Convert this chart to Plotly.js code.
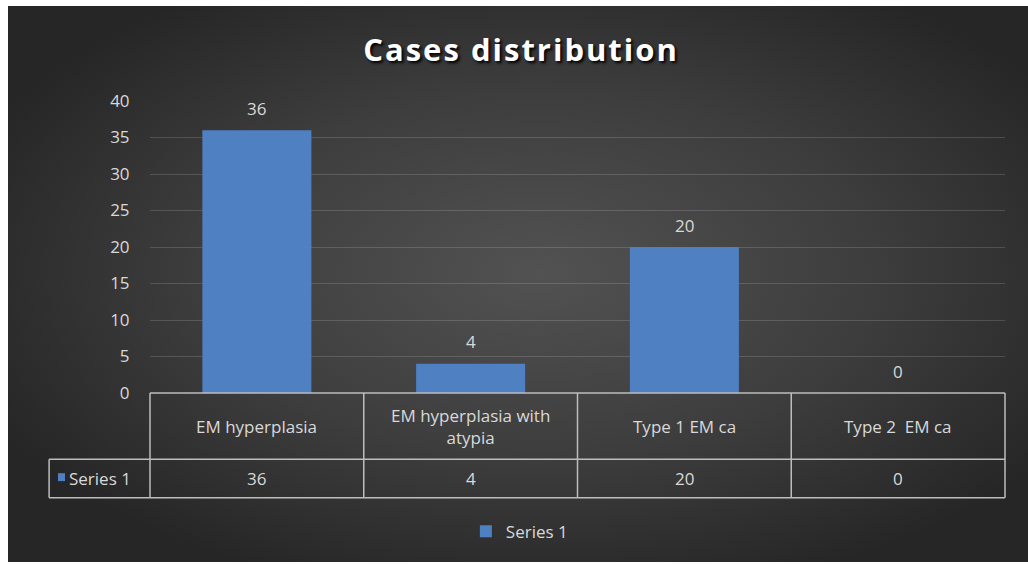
<!DOCTYPE html>
<html>
<head>
<meta charset="utf-8">
<script src="https://cdn.plot.ly/plotly-3.0.1.min.js"></script>
<style>
  html, body { margin: 0; padding: 0; background: #ffffff; width: 1028px; height: 564px; overflow: hidden; }
  #chart {
    position: absolute; left: 8px; top: 6px; width: 1020px; height: 556px;
    background: radial-gradient(ellipse 60% 60% at 52% 48%, #525252 0%, #3d3d3d 55%, #262626 100%);
  }
</style>
</head>
<body>
<div id="chart"></div>
<script>
// ---- data ----
var categories = ["EM hyperplasia", "EM hyperplasia with atypia", "Type 1 EM ca", "Type 2  EM ca"];
var categoryLabels = ["EM hyperplasia", "EM hyperplasia with<br>atypia", "Type 1 EM ca", "Type 2  EM ca"];
var seriesName = "Series 1";
var values = [36, 4, 20, 0];
var yTicks = [0, 5, 10, 15, 20, 25, 30, 35, 40];

// ---- styles ----
var barColor = "#4f80c2";
var textColor = "#d9d9d9";
var lineColor = "#bdbdbd";
var fontFamily = "'Open Sans', 'Noto Sans', sans-serif";

var trace = {
  type: "bar",
  x: categories,
  y: values,
  name: seriesName,
  marker: { color: barColor },
  hoverinfo: "x+y",
  showlegend: true
};

// table geometry (paper coords)
var headerBottom = -0.227;
var rowBottom = -0.359;
var rowHeaderLeft = -0.118;
var shapes = [];
function hline(y, x0, x1) {
  shapes.push({ type: "line", xref: "paper", yref: "paper", x0: x0, x1: x1, y0: y, y1: y,
    line: { color: lineColor, width: 1.5 } });
}
function vline(x, y0, y1) {
  shapes.push({ type: "line", xref: "paper", yref: "paper", x0: x, x1: x, y0: y0, y1: y1,
    line: { color: lineColor, width: 1.5 } });
}
hline(0, 0, 1);
hline(headerBottom, rowHeaderLeft, 1);
hline(rowBottom, rowHeaderLeft, 1);
for (var i = 0; i <= categories.length; i++) vline(i / categories.length, 0, rowBottom);
vline(rowHeaderLeft, headerBottom, rowBottom);
// legend key square in the row header cell
shapes.push({ type: "rect", xref: "paper", yref: "paper", x0: -0.1076, x1: -0.0994, y0: -0.2746, y1: -0.3017,
  fillcolor: barColor, line: { width: 0 } });

var annotations = [];
categories.forEach(function (c, i) {
  annotations.push({ x: c, xref: "x", y: (0 + headerBottom) / 2, yref: "paper",
    text: categoryLabels[i], showarrow: false, xanchor: "center", yanchor: "middle",
    font: { family: fontFamily, size: 17, color: textColor } });
  annotations.push({ x: c, xref: "x", y: (headerBottom + rowBottom) / 2, yref: "paper",
    text: String(values[i]), showarrow: false, xanchor: "center", yanchor: "middle",
    font: { family: fontFamily, size: 17, color: textColor } });
  annotations.push({ x: c, xref: "x", y: values[i], yref: "y",
    text: String(values[i]), showarrow: false, xanchor: "center", yanchor: "middle", yshift: 22,
    font: { family: fontFamily, size: 17, color: textColor } });
});
annotations.push({ x: -0.0975, xref: "paper", y: (headerBottom + rowBottom) / 2, yref: "paper",
  text: seriesName, showarrow: false, xanchor: "left", yanchor: "middle",
  font: { family: fontFamily, size: 17, color: textColor } });

var layout = {
  width: 1020, height: 556,
  paper_bgcolor: "rgba(0,0,0,0)",
  plot_bgcolor: "rgba(0,0,0,0)",
  margin: { l: 142, r: 23, t: 95, b: 166 },
  title: {
    text: "<span style='letter-spacing:2px'>Cases distribution</span>",
    xref: "container", x: 0.503, xanchor: "center",
    yref: "container", y: 0.921, yanchor: "middle",
    font: { family: fontFamily, size: 31, color: "#ffffff", weight: "bold", shadow: "2px 2px 3px #000000" }
  },
  xaxis: {
    type: "category", range: [-0.5, 3.5], showticklabels: false, showgrid: false,
    zeroline: false, showline: false, ticks: "", fixedrange: true
  },
  yaxis: {
    range: [0, 40], tickvals: yTicks, showgrid: true, gridcolor: "rgba(255,255,255,0.15)", gridwidth: 1,
    zeroline: false, showline: false, ticks: "outside", ticklen: 16, tickcolor: "rgba(0,0,0,0)",
    tickfont: { family: fontFamily, size: 17, color: textColor }, fixedrange: true
  },
  bargap: 0.49,
  showlegend: true,
  legend: {
    orientation: "h", x: 0.432, xanchor: "center", y: -0.475, yanchor: "middle",
    font: { family: fontFamily, size: 17, color: textColor }, bgcolor: "rgba(0,0,0,0)"
  },
  shapes: shapes,
  annotations: annotations
};

Plotly.newPlot("chart", [trace], layout, { displayModeBar: false, staticPlot: true });
</script>
</body>
</html>
